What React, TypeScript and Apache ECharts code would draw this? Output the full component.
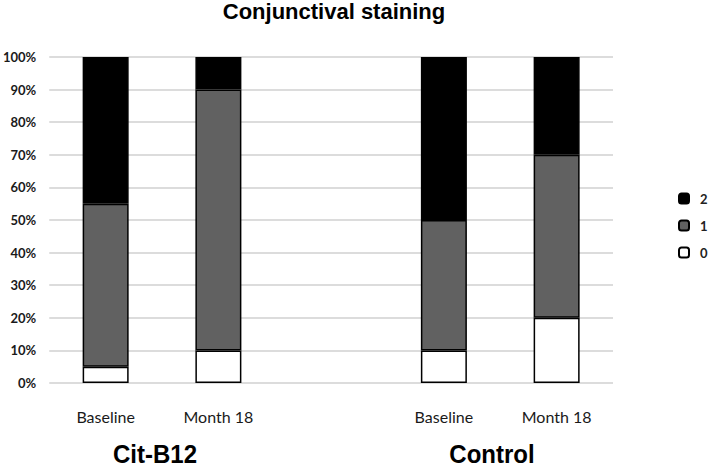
import React, { useEffect, useRef } from "react";
import * as echarts from "echarts";

const categories = ["Baseline", "Month 18", "", "Baseline", "Month 18"];
const score0 = [5, 10, null, 10, 20];
const score1 = [50, 80, null, 40, 50];
const score2 = [45, 10, null, 50, 30];
const groupLabels = ["Cit-B12", "Control"];
const yTicks = [0, 10, 20, 30, 40, 50, 60, 70, 80, 90, 100];

export default function App() {
  const ref = useRef<HTMLDivElement>(null);
  useEffect(() => {
    if (!ref.current) return;
    const chart = echarts.init(ref.current, null, { renderer: "svg" });
    const tickFont = "Lato, 'Open Sans', sans-serif";
    const headFont = "'Liberation Sans', Arial, sans-serif";
    const barStyle = (color: string) => ({
      color,
      borderColor: "#000",
      borderWidth: 1.5,
    });
    chart.setOption({
      animation: false,
      backgroundColor: "#fff",
      grid: { left: 47, right: 96, top: 57, bottom: 85, containLabel: false },
      legend: {
        orient: "vertical",
        left: 673,
        top: 187,
        itemWidth: 10,
        itemHeight: 10,
        itemGap: 14,
        data: ["2", "1", "0"],
        textStyle: {
          fontFamily: tickFont,
          fontSize: 13,
          fontWeight: "bold",
          color: "#222",
          padding: [0, 0, 0, 6],
        },
      },
      xAxis: {
        type: "category",
        data: categories,
        axisLine: { show: false },
        axisTick: { show: false },
        axisLabel: {
          margin: 25,
          fontFamily: tickFont,
          fontSize: 16,
          color: "#1a1a1a",
          interval: 0,
        },
      },
      yAxis: {
        type: "value",
        min: yTicks[0],
        max: yTicks[yTicks.length - 1],
        interval: 10,
        axisLine: { show: false },
        axisTick: { show: false },
        splitLine: { lineStyle: { color: "#d0d0d0", width: 1.5 } },
        axisLabel: {
          formatter: "{value}%",
          margin: 13,
          fontFamily: tickFont,
          fontSize: 13,
          fontWeight: "bold",
          color: "#1a1a1a",
        },
      },
      series: [
        {
          name: "0",
          type: "bar",
          stack: "s",
          data: score0,
          barWidth: 46,
          itemStyle: barStyle("#ffffff"),
        },
        {
          name: "1",
          type: "bar",
          stack: "s",
          data: score1,
          barWidth: 46,
          itemStyle: barStyle("#616161"),
        },
        {
          name: "2",
          type: "bar",
          stack: "s",
          data: score2,
          barWidth: 46,
          itemStyle: barStyle("#000000"),
        },
      ],
      graphic: [
        {
          type: "text",
          x: 334,
          y: 11,
          style: {
            text: "Conjunctival staining",
            fontFamily: headFont,
            fontWeight: "bold",
            fontSize: 22,
            fill: "#000",
            align: "center",
            verticalAlign: "middle",
          },
        },
        {
          type: "text",
          x: 155,
          y: 454,
          scaleY: 1.1,
          style: {
            text: groupLabels[0],
            fontFamily: headFont,
            fontWeight: "bold",
            fontSize: 24,
            fill: "#000",
            align: "center",
            verticalAlign: "middle",
          },
        },
        {
          type: "text",
          x: 492,
          y: 454,
          scaleY: 1.1,
          style: {
            text: groupLabels[1],
            fontFamily: headFont,
            fontWeight: "bold",
            fontSize: 24,
            fill: "#000",
            align: "center",
            verticalAlign: "middle",
          },
        },
      ],
    });
    return () => chart.dispose();
  }, []);
  return <div ref={ref} style={{ width: 709, height: 468, position: "absolute", left: 0, top: 0 }} />;
}
